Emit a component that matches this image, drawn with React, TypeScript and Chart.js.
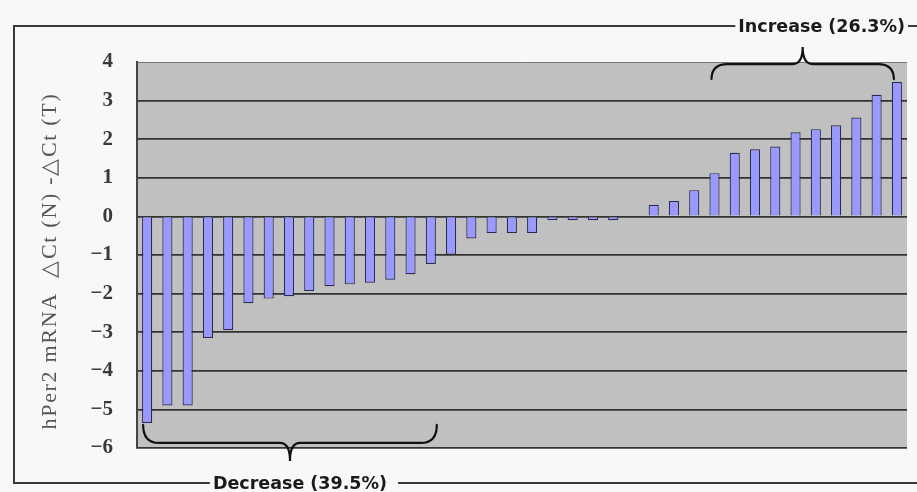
import React, { useEffect, useRef } from "react";
import { Chart, registerables } from "chart.js";

Chart.register(...registerables);

// Tumour samples, sorted by expression change
const samples = [
  "1", "2", "3", "4", "5", "6", "7", "8", "9", "10",
  "11", "12", "13", "14", "15", "16", "17", "18", "19", "20",
  "21", "22", "23", "24", "25", "26", "27", "28", "29", "30",
  "31", "32", "33", "34", "35", "36", "37", "38",
];

// hPer2 mRNA ΔCt(N) − ΔCt(T) per sample
const deltaCt = [
  -5.35, -4.9, -4.9, -3.15, -2.95, -2.25, -2.13, -2.07, -1.93, -1.81,
  -1.76, -1.72, -1.64, -1.5, -1.23, -0.99, -0.57, -0.43, -0.43, -0.43,
  -0.1, -0.1, -0.1, -0.1, 0.03, 0.3, 0.4, 0.68, 1.12, 1.65,
  1.74, 1.81, 2.18, 2.26, 2.36, 2.56, 3.15, 3.48,
];

const yMin = -6;
const yMax = 4;

// Grouped samples: first 15 decreased, last 10 increased
const decreaseCount = 15;
const increaseCount = 10;
const decreaseLabel = "Decrease (39.5%)";
const increaseLabel = "Increase (26.3%)";
const yTitle = "hPer2 mRNA  △Ct (N) -△Ct (T)";

const FRAME_LEFT = 14;
const FRAME_TOP = 26;
const FRAME_BOTTOM = 483;

function braceDown(ctx: CanvasRenderingContext2D, x1: number, x2: number, yEnd: number, yMid: number, yTip: number, xTip: number) {
  const r = 16;
  const r2 = 10;
  ctx.beginPath();
  ctx.moveTo(x1, yEnd);
  ctx.quadraticCurveTo(x1, yMid, x1 + r, yMid);
  ctx.lineTo(xTip - r2, yMid);
  ctx.quadraticCurveTo(xTip, yMid, xTip, yTip);
  ctx.quadraticCurveTo(xTip, yMid, xTip + r2, yMid);
  ctx.lineTo(x2 - r, yMid);
  ctx.quadraticCurveTo(x2, yMid, x2, yEnd);
  ctx.stroke();
}

function labelOnLine(ctx: CanvasRenderingContext2D, text: string, cx: number, y: number, x0: number, x1: number, gapL: number, gapR: number) {
  ctx.font = "bold 17.5px 'DejaVu Sans'";
  const w = ctx.measureText(text).width;
  const left = cx - w / 2;
  const right = cx + w / 2;
  ctx.beginPath();
  ctx.moveTo(x0, y);
  ctx.lineTo(left - gapL, y);
  ctx.moveTo(right + gapR, y);
  ctx.lineTo(x1, y);
  ctx.stroke();
  ctx.fillStyle = "#1a1a1a";
  ctx.textAlign = "center";
  ctx.textBaseline = "middle";
  ctx.fillText(text, cx, y + 1);
}

const decorations = {
  id: "decorations",
  beforeDraw(chart: any) {
    const { ctx, chartArea: a, width, height } = chart;
    ctx.save();
    ctx.fillStyle = "#f8f8f8";
    ctx.fillRect(0, 0, width, height);
    ctx.fillStyle = "#c0c0c0";
    ctx.fillRect(a.left, a.top, a.right - a.left, a.bottom - a.top);
    ctx.restore();
  },
  afterDraw(chart: any) {
    const { ctx, width, chartArea: a } = chart;
    const xs = chart.scales.x;
    const ys = chart.scales.y;
    ctx.save();

    // vertical axis title
    ctx.save();
    ctx.translate(50, (a.top + a.bottom) / 2 + 6);
    ctx.rotate(-Math.PI / 2);
    ctx.font = "22px 'Liberation Serif', serif";
    (ctx as any).letterSpacing = "1.7px";
    ctx.fillStyle = "#555";
    ctx.textAlign = "center";
    ctx.textBaseline = "middle";
    ctx.fillText(yTitle, 0, 0);
    ctx.restore();

    ctx.strokeStyle = "#111";
    ctx.lineWidth = 2.2;
    ctx.lineCap = "round";

    // bracket under the decreased samples
    const dL = xs.getPixelForValue(0) - 4;
    const dR = xs.getPixelForValue(decreaseCount - 1) + 6;
    const dEnd = ys.getPixelForValue(deltaCt[0]) + 2;
    const dMid = dEnd + 18;
    const dTip = dMid + 18;
    const dTipX = (dL + dR) / 2;
    braceDown(ctx, dL, dR, dEnd, dMid, dTip, dTipX);

    // bracket over the increased samples
    const last = deltaCt.length - 1;
    const iL = xs.getPixelForValue(last - increaseCount + 1) - 3;
    const iR = xs.getPixelForValue(last) - 3;
    const iEnd = ys.getPixelForValue(deltaCt[last]) - 3;
    const iMid = iEnd - 15;
    const iTip = iMid - 17;
    const iTipX = (iL + iR) / 2;
    braceDown(ctx, iL, iR, iEnd, iMid, iTip, iTipX);

    // outer frame with the group labels set into it
    ctx.strokeStyle = "#3a3a3a";
    ctx.lineWidth = 2;
    ctx.lineCap = "butt";
    ctx.beginPath();
    ctx.moveTo(FRAME_LEFT, FRAME_TOP);
    ctx.lineTo(FRAME_LEFT, FRAME_BOTTOM);
    ctx.stroke();
    labelOnLine(ctx, increaseLabel, iTipX + 19, FRAME_TOP, FRAME_LEFT - 1, width, 3, 3);
    labelOnLine(ctx, decreaseLabel, dTipX + 10, FRAME_BOTTOM, FRAME_LEFT - 1, width, 3, 11);
    ctx.restore();
  },
};

export default function App() {
  const canvasRef = useRef<HTMLCanvasElement | null>(null);

  useEffect(() => {
    const canvas = canvasRef.current;
    if (!canvas) return;
    const chart = new Chart(canvas, {
      type: "bar",
      data: {
        labels: samples,
        datasets: [
          {
            data: deltaCt,
            backgroundColor: "#9999ff",
            borderColor: "#2a2a52",
            borderWidth: 1.2,
            barPercentage: 0.5,
            categoryPercentage: 1,
          },
        ],
      },
      options: {
        responsive: false,
        animation: false,
        layout: { padding: { left: 0, right: 10, top: 62, bottom: 44 } },
        plugins: {
          legend: { display: false },
          tooltip: { enabled: false },
        },
        scales: {
          x: { display: false },
          y: {
            min: yMin,
            max: yMax,
            afterFit(scale: any) {
              scale.width = 137;
            },
            border: { display: true, color: "#444", width: 2 },
            grid: {
              drawTicks: false,
              color: (c: any) => (c.tick && c.tick.value === yMax ? "#777" : "#333"),
              lineWidth: (c: any) => (c.tick && c.tick.value === yMax ? 1 : 1.8),
            },
            ticks: {
              stepSize: 1,
              padding: 24,
              color: "#3a3a3a",
              font: { family: "'Liberation Serif', serif", size: 21, weight: "bold" },
              callback: (v: any) => (Number(v) < 0 ? "\u2212" + Math.abs(Number(v)) : String(v)),
            },
          },
        },
      },
      plugins: [decorations],
    });
    return () => chart.destroy();
  }, []);

  return (
    <div style={{ position: "fixed", left: 0, top: 0, width: 917, height: 492 }}>
      <canvas ref={canvasRef} width={917} height={492} style={{ display: "block" }} />
    </div>
  );
}
